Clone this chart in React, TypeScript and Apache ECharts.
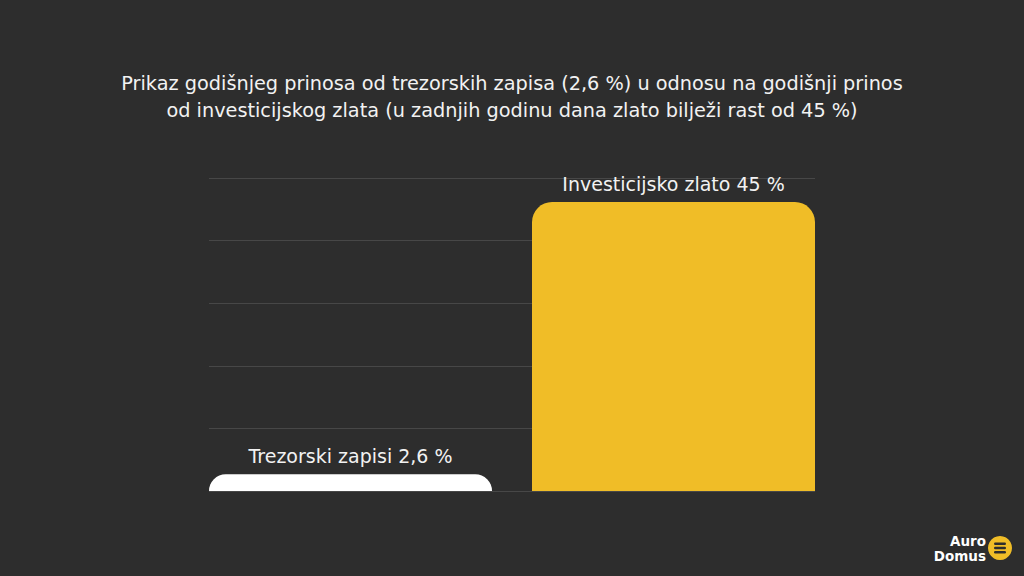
import React, { useEffect, useRef } from "react";
import * as echarts from "echarts";

const categories = ["Trezorski zapisi", "Investicijsko zlato"];
const values = [2.6, 45];
const barColors = ["#ffffff", "#f0bd27"];
const titleLines = [
  "Prikaz godišnjeg prinosa od trezorskih zapisa (2,6 %) u odnosu na godišnji prinos",
  "od investicijskog zlata (u zadnjih godinu dana zlato bilježi rast od 45 %)",
];
const axisMax = 48.75;
const axisInterval = 9.75;

export default function App() {
  const ref = useRef<HTMLDivElement>(null);
  useEffect(() => {
    document.body.style.margin = "0";
    const chart = echarts.init(ref.current!, null, { renderer: "svg" });
    const font = "'DejaVu Sans', sans-serif";
    chart.setOption({
      animation: false,
      backgroundColor: "#2d2d2d",
      grid: [
        { left: 189, right: 189, top: 178, bottom: 85 },
        { left: 209, right: 209, top: 178, bottom: 85 },
      ],
      xAxis: [
        {
          type: "category",
          gridIndex: 0,
          data: categories,
          axisLine: { show: false },
          axisTick: { show: false },
          axisLabel: { show: false },
        },
        { type: "value", gridIndex: 1, min: 0, max: 1, show: false },
      ],
      yAxis: [
        {
          type: "value",
          gridIndex: 0,
          min: 0,
          max: axisMax,
          interval: axisInterval,
          axisLine: { show: false },
          axisTick: { show: false },
          axisLabel: { show: false },
          splitLine: { show: false },
        },
        {
          type: "value",
          gridIndex: 1,
          min: 0,
          max: axisMax,
          interval: axisInterval,
          axisLine: { show: false },
          axisTick: { show: false },
          axisLabel: { show: false },
          splitLine: { show: true, lineStyle: { color: "#474747", width: 1 } },
        },
      ],
      series: [
        {
          type: "bar",
          xAxisIndex: 0,
          yAxisIndex: 0,
          barWidth: 283,
          z: 3,
          data: values.map((v, i) => ({
            value: v,
            itemStyle: { color: barColors[i], borderRadius: [20, 20, 0, 0] },
          })),
          label: {
            show: true,
            position: "top",
            distance: 9,
            color: "#f2f2f2",
            fontFamily: font,
            fontSize: 19,
            formatter: (p: any) =>
              `${categories[p.dataIndex]} ${String(p.value).replace(".", ",")} %`,
          },
        },
      ],
      graphic: [
        {
          type: "text",
          x: 512,
          y: 83,
          style: {
            text: titleLines[0],
            fill: "#f2f2f2",
            font: `400 19.3px ${font}`,
            textAlign: "center",
            textVerticalAlign: "middle",
          },
        },
        {
          type: "text",
          x: 512,
          y: 110,
          style: {
            text: titleLines[1],
            fill: "#f2f2f2",
            font: `400 19.3px ${font}`,
            textAlign: "center",
            textVerticalAlign: "middle",
          },
        },
        {
          type: "text",
          x: 986,
          y: 540.5,
          style: {
            text: "Auro",
            fill: "#ffffff",
            font: `bold 13.5px ${font}`,
            textAlign: "right",
            textVerticalAlign: "middle",
          },
        },
        {
          type: "text",
          x: 986,
          y: 555.5,
          style: {
            text: "Domus",
            fill: "#ffffff",
            font: `bold 13.5px ${font}`,
            textAlign: "right",
            textVerticalAlign: "middle",
          },
        },
        {
          type: "group",
          x: 1000,
          y: 548,
          children: [
            { type: "circle", shape: { cx: 0, cy: 0, r: 12 }, style: { fill: "#f0bd27" } },
            { type: "rect", shape: { x: -6, y: -5.5, width: 12, height: 2.4, r: 1.2 }, style: { fill: "#2d2d2d" } },
            { type: "rect", shape: { x: -6, y: -1.2, width: 12, height: 2.4, r: 1.2 }, style: { fill: "#2d2d2d" } },
            { type: "rect", shape: { x: -6, y: 3.1, width: 12, height: 2.4, r: 1.2 }, style: { fill: "#2d2d2d" } },
          ],
        },
      ],
    });
    return () => chart.dispose();
  }, []);
  return (
    <div
      ref={ref}
      style={{ width: 1024, height: 576, position: "absolute", left: 0, top: 0 }}
    />
  );
}
